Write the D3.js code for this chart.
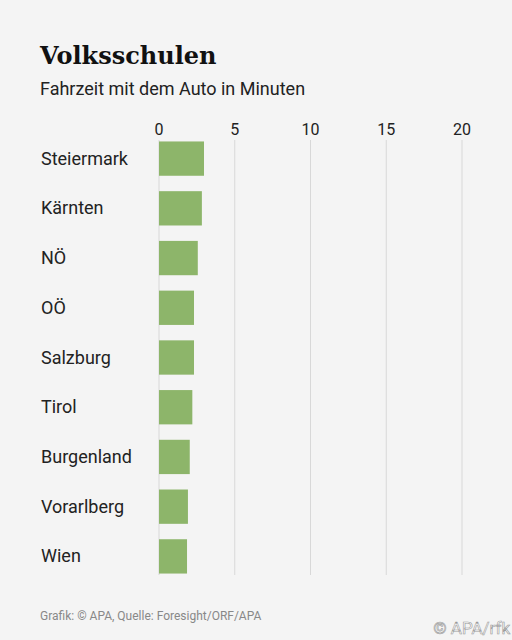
<!DOCTYPE html>
<html><head><meta charset="utf-8">
<script src="https://cdn.jsdelivr.net/npm/d3@7"></script>
<style>body{margin:0;background:#f4f4f4}</style>
</head><body>
<svg id="c" width="512" height="640"></svg>
<script>
const regions = ['Steiermark','Kärnten','NÖ','OÖ','Salzburg','Tirol','Burgenland','Vorarlberg','Wien']
const minutes = [2.97, 2.83, 2.56, 2.31, 2.31, 2.2, 2.03, 1.91, 1.85]
const ticks = [0, 5, 10, 15, 20]

const svg = d3.select('#c')
svg.append('rect').attr('width', 512).attr('height', 640).attr('fill', '#f4f4f4')

const x = d3.scaleLinear().domain([0, 20]).range([159, 462])
const y = d3.scaleBand().domain(regions).range([134, 581]).paddingInner(0.31).paddingOuter(0.15)

svg.append('text').attr('x', 40).attr('y', 64).text('Volksschulen')
  .attr('font-family', 'DejaVu Serif').attr('font-weight', 'bold').attr('font-size', 24).attr('fill', '#111')
svg.append('text').attr('x', 40).attr('y', 95).text('Fahrzeit mit dem Auto in Minuten')
  .attr('font-family', 'Roboto').attr('font-size', 18).attr('fill', '#222')

// grid + tick labels
svg.selectAll('.grid').data(ticks).enter().append('line')
  .attr('x1', d => x(d)).attr('x2', d => x(d)).attr('y1', 140).attr('y2', 575)
  .attr('stroke', '#d8d8d8').attr('stroke-width', 1)
svg.selectAll('.tick').data(ticks).enter().append('text')
  .attr('x', d => x(d)).attr('y', 135).attr('text-anchor', 'middle').text(d => d)
  .attr('font-family', 'Roboto').attr('font-size', 16).attr('fill', '#222')

svg.selectAll('.bar').data(regions).enter().append('rect')
  .attr('x', x(0)).attr('y', d => y(d))
  .attr('width', (d, i) => x(minutes[i]) - x(0)).attr('height', y.bandwidth())
  .attr('fill', '#8db56a')

svg.selectAll('.lab').data(regions).enter().append('text')
  .attr('x', 41).attr('y', d => y(d) + y.bandwidth() / 2 + 6).text(d => d)
  .attr('font-family', 'Roboto').attr('font-size', 18).attr('fill', '#222')

svg.append('text').attr('x', 40).attr('y', 620).text('Grafik: © APA, Quelle: Foresight/ORF/APA')
  .attr('font-family', 'Roboto').attr('font-size', 12).attr('fill', '#888')
svg.append('text').attr('x', 510).attr('y', 634).attr('text-anchor', 'end').text('© APA/rfk')
  .attr('font-family', 'Roboto').attr('font-size', 17).attr('fill', '#fff')
  .attr('stroke', '#999').attr('stroke-width', 0.6)
</script>
</body></html>
